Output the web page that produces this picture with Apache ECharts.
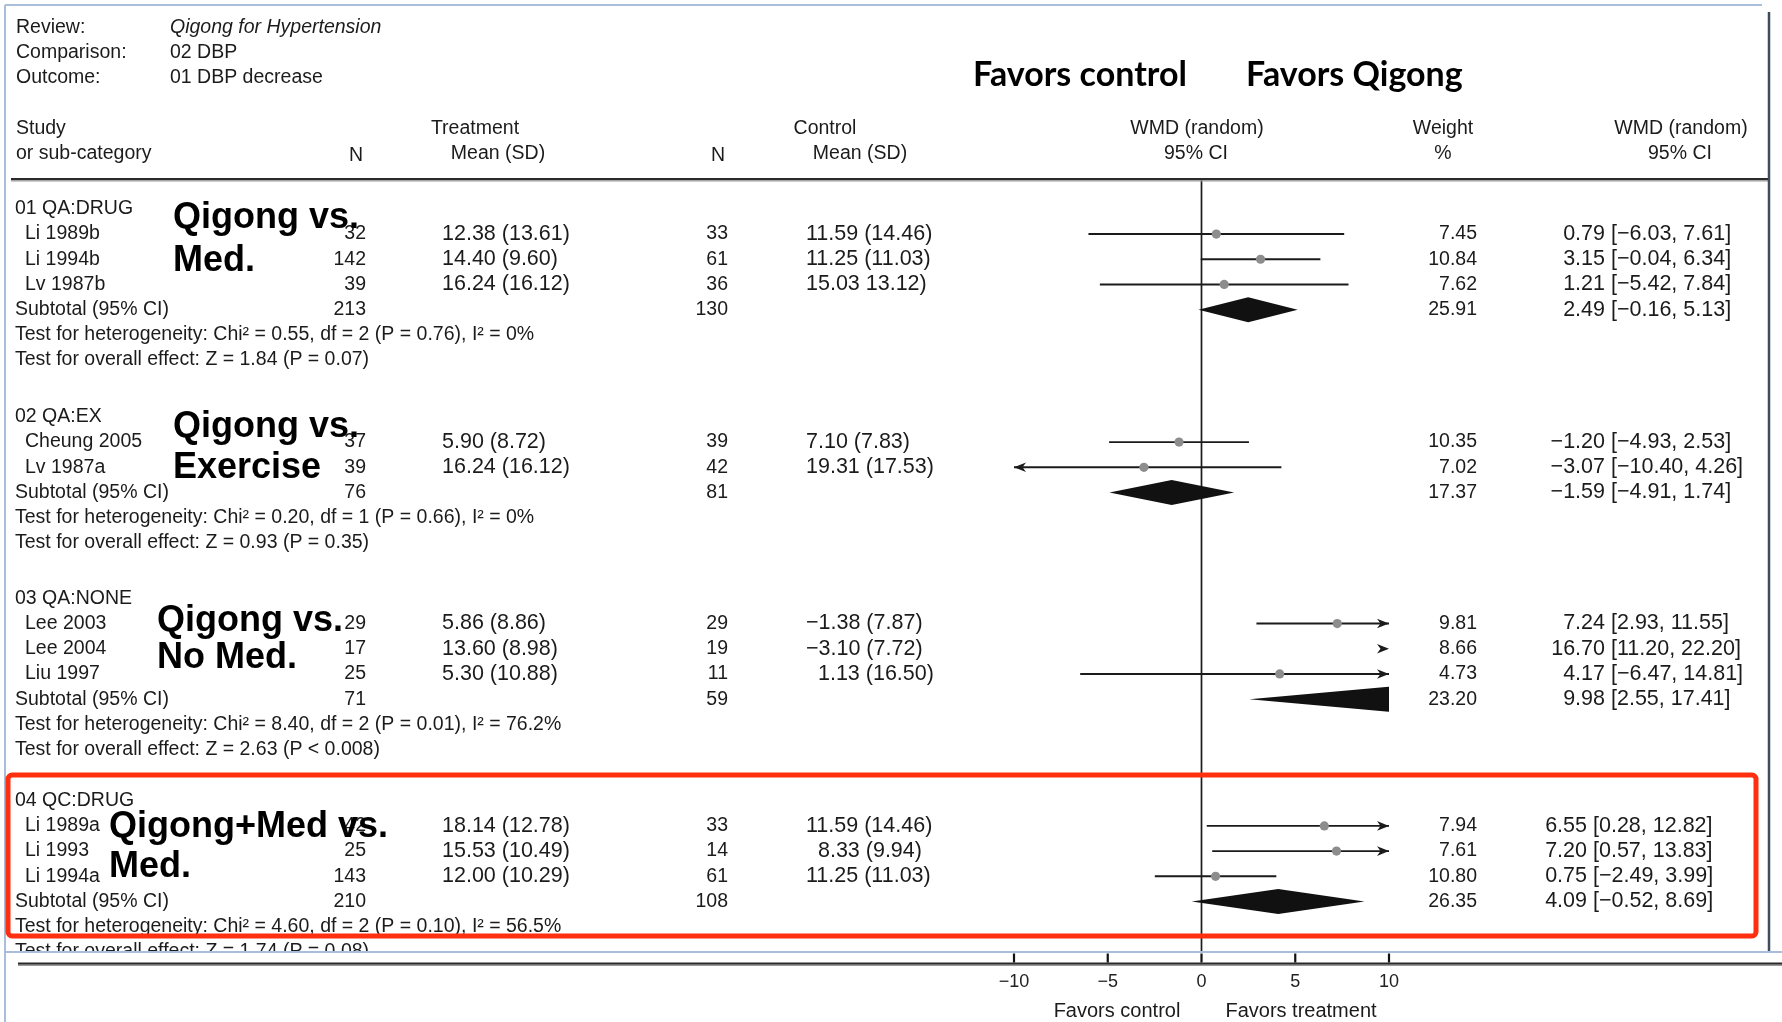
<!DOCTYPE html>
<html>
<head>
<meta charset="utf-8">
<script src="https://cdn.jsdelivr.net/npm/echarts@6/dist/echarts.min.js"></script>
<style>
  html, body { margin: 0; padding: 0; background: #ffffff; }
  #chart { width: 1782px; height: 1022px; }
</style>
</head>
<body>
<div id="chart"></div>
<script>
// ---- Review meta ----
const reviewTitle = 'Qigong for Hypertension';
const comparisonName = '02 DBP';
const outcomeName = '01 DBP decrease';

// ---- Sub-categories ----
const groupCodes = ['01 QA:DRUG', '02 QA:EX', '03 QA:NONE', '04 QC:DRUG'];
const groupNotes = [
  ['Qigong vs.', 'Med.'],
  ['Qigong vs.', 'Exercise'],
  ['Qigong vs.', 'No Med.'],
  ['Qigong+Med vs.', 'Med.']
];

// ---- Studies ----
const studyNames = ['Li 1989b', 'Li 1994b', 'Lv 1987b', 'Cheung 2005', 'Lv 1987a',
  'Lee 2003', 'Lee 2004', 'Liu 1997', 'Li 1989a', 'Li 1993', 'Li 1994a'];
const studyGroup = [0, 0, 0, 1, 1, 2, 2, 2, 3, 3, 3];
const treatN = [32, 142, 39, 37, 39, 29, 17, 25, 42, 25, 143];
const treatMeanSD = ['12.38 (13.61)', '14.40 (9.60)', '16.24 (16.12)', '5.90 (8.72)', '16.24 (16.12)',
  '5.86 (8.86)', '13.60 (8.98)', '5.30 (10.88)', '18.14 (12.78)', '15.53 (10.49)', '12.00 (10.29)'];
const ctrlN = [33, 61, 36, 39, 42, 29, 19, 11, 33, 14, 61];
const ctrlMeanSD = ['11.59 (14.46)', '11.25 (11.03)', '15.03 13.12)', '7.10 (7.83)', '19.31 (17.53)',
  '\u22121.38 (7.87)', '\u22123.10 (7.72)', '\u20071.13 (16.50)', '11.59 (14.46)', '\u20078.33 (9.94)', '11.25 (11.03)'];
const studyWeight = [7.45, 10.84, 7.62, 10.35, 7.02, 9.81, 8.66, 4.73, 7.94, 7.61, 10.80];
const studyWmd = [0.79, 3.15, 1.21, -1.20, -3.07, 7.24, 16.70, 4.17, 6.55, 7.20, 0.75];
const studyLow = [-6.03, -0.04, -5.42, -4.93, -10.40, 2.93, 11.20, -6.47, 0.28, 0.57, -2.49];
const studyHigh = [7.61, 6.34, 7.84, 2.53, 4.26, 11.55, 22.20, 14.81, 12.82, 13.83, 3.99];

// ---- Subtotals ----
const subTreatN = [213, 76, 71, 210];
const subCtrlN = [130, 81, 59, 108];
const subWeight = [25.91, 17.37, 23.20, 26.35];
const subWmd = [2.49, -1.59, 9.98, 4.09];
const subLow = [-0.16, -4.91, 2.55, -0.52];
const subHigh = [5.13, 1.74, 17.41, 8.69];
const hetTests = [
  'Chi\u00B2 = 0.55, df = 2 (P = 0.76), I\u00B2 = 0%',
  'Chi\u00B2 = 0.20, df = 1 (P = 0.66), I\u00B2 = 0%',
  'Chi\u00B2 = 8.40, df = 2 (P = 0.01), I\u00B2 = 76.2%',
  'Chi\u00B2 = 4.60, df = 2 (P = 0.10), I\u00B2 = 56.5%'
];
const overallTests = ['Z = 1.84 (P = 0.07)', 'Z = 0.93 (P = 0.35)', 'Z = 2.63 (P < 0.008)', 'Z = 1.74 (P = 0.08)'];

// ---- Axis ----
const xTicks = [-10, -5, 0, 5, 10];

// ---- Layout ----
const ROW = 25.2;                 // px per table row
const GRID_TOP = 178, GRID_BOTTOM_Y = 964;
const Y_MAX = (GRID_BOTTOM_Y - GRID_TOP) / ROW;
const GROUP_START = [1.225, 9.48, 16.68, 24.71];
const HEAD_GAP = 1.0;
const COL = { group: 15, study: 25, tN: 366, tMean: 442, cN: 728, cMean: 806, weight: 1477, ciEst: 1605 };
const CI_SHIFT = [0, 0, 0, -18];
const NOTE_X = [173, 173, 157, 109];
const NOTE_Y = [[218, 261], [427, 468], [621, 658], [827, 867]];

const FAM = '"Liberation Sans", Arial, Helvetica, sans-serif';
const FONT = '19.5px ' + FAM;
const NUMFONT = '21.5px ' + FAM;
const INK = '#1b1b1b';

const fmt = v => (v < 0 ? '\u2212' : '') + Math.abs(v).toFixed(2);

// rows of each sub-category
function groupRows(g) {
  const ids = studyNames.map((_, i) => i).filter(i => studyGroup[i] === g);
  const s = GROUP_START[g];
  return {
    header: s,
    studies: ids.map((id, k) => ({ id, row: s + HEAD_GAP + k })),
    sub: s + HEAD_GAP + ids.length,
    het: s + HEAD_GAP + ids.length + 1,
    overall: s + HEAD_GAP + ids.length + 2
  };
}

// table texts tied to row positions
const cells = [];
const ciData = [];
const subData = [];
groupCodes.forEach((code, g) => {
  const r = groupRows(g);
  const ciX = COL.ciEst + CI_SHIFT[g];
  cells.push({ row: r.header, x: COL.group, text: code, align: 'left', font: FONT });
  r.studies.forEach(({ id, row }) => {
    cells.push({ row, x: COL.study, text: studyNames[id], align: 'left', font: FONT });
    cells.push({ row, x: COL.tN, text: String(treatN[id]), align: 'right', font: FONT });
    cells.push({ row, x: COL.tMean, text: treatMeanSD[id], align: 'left', font: NUMFONT });
    cells.push({ row, x: COL.cN, text: String(ctrlN[id]), align: 'right', font: FONT });
    cells.push({ row, x: COL.cMean, text: ctrlMeanSD[id], align: 'left', font: NUMFONT });
    cells.push({ row, x: COL.weight, text: studyWeight[id].toFixed(2), align: 'right', font: FONT });
    cells.push({ row, x: ciX, text: fmt(studyWmd[id]), align: 'right', font: NUMFONT });
    cells.push({ row, x: ciX, text: ' [' + fmt(studyLow[id]) + ', ' + fmt(studyHigh[id]) + ']', align: 'left', font: NUMFONT });
    ciData.push([studyWmd[id], studyLow[id], studyHigh[id], row]);
  });
  cells.push({ row: r.sub, x: COL.group, text: 'Subtotal (95% CI)', align: 'left', font: FONT });
  cells.push({ row: r.sub, x: COL.tN, text: String(subTreatN[g]), align: 'right', font: FONT });
  cells.push({ row: r.sub, x: COL.cN, text: String(subCtrlN[g]), align: 'right', font: FONT });
  cells.push({ row: r.sub, x: COL.weight, text: subWeight[g].toFixed(2), align: 'right', font: FONT });
  cells.push({ row: r.sub, x: ciX, text: fmt(subWmd[g]), align: 'right', font: NUMFONT });
  cells.push({ row: r.sub, x: ciX, text: ' [' + fmt(subLow[g]) + ', ' + fmt(subHigh[g]) + ']', align: 'left', font: NUMFONT });
  cells.push({ row: r.het, x: COL.group, text: 'Test for heterogeneity: ' + hetTests[g], align: 'left', font: FONT });
  cells.push({ row: r.overall, x: COL.group, text: 'Test for overall effect: ' + overallTests[g], align: 'left', font: FONT });
  subData.push([subWmd[g], subLow[g], subHigh[g], r.sub]);
});

// clip a polygon to the vertical band [L, R]
function clipX(points, L, R) {
  const clipEdge = (pts, inside, cross) => {
    const out = [];
    for (let i = 0; i < pts.length; i++) {
      const a = pts[i], b = pts[(i + 1) % pts.length];
      const ia = inside(a), ib = inside(b);
      if (ia) out.push(a);
      if (ia !== ib) out.push(cross(a, b));
    }
    return out;
  };
  const at = (a, b, x) => [x, a[1] + (b[1] - a[1]) * (x - a[0]) / (b[0] - a[0])];
  let p = clipEdge(points, q => q[0] >= L, (a, b) => at(a, b, L));
  p = clipEdge(p, q => q[0] <= R, (a, b) => at(a, b, R));
  return p;
}

function arrowHead(xTip, y, dir) {
  return {
    type: 'polygon',
    shape: { points: [[xTip, y], [xTip - dir * 12, y - 4.8], [xTip - dir * 8.5, y], [xTip - dir * 12, y + 4.8]] },
    style: { fill: INK }
  };
}

const chart = echarts.init(document.getElementById('chart'), null, { renderer: 'canvas' });

const option = {
  backgroundColor: '#ffffff',
  animation: false,
  grid: { left: 1014, right: 1782 - 1389, top: GRID_TOP, bottom: 1022 - GRID_BOTTOM_Y, containLabel: false },
  xAxis: {
    type: 'value',
    position: 'bottom',
    min: xTicks[0],
    max: xTicks[xTicks.length - 1],
    interval: xTicks[1] - xTicks[0],
    z: 10,
    axisLine: { show: false, onZero: false },
    axisTick: { show: false },
    axisLabel: {
      margin: 9, fontSize: 18, color: '#222', fontFamily: FAM,
      formatter: v => (v < 0 ? '\u2212' + Math.abs(v) : String(v))
    },
    splitLine: { show: false }
  },
  yAxis: { type: 'value', inverse: true, min: 0, max: Y_MAX, show: false },
  series: [
    {
      // line of no effect
      type: 'custom', name: 'zero', silent: true, z: 2,
      data: [[0, 0]],
      renderItem: (params, api) => {
        const cs = params.coordSys;
        const x = api.coord([api.value(0), 0])[0];
        return { type: 'line', shape: { x1: x, y1: cs.y, x2: x, y2: cs.y + cs.height - 12 },
          style: { stroke: INK, lineWidth: 1.7 } };
      }
    },
    {
      // study confidence intervals
      type: 'custom', name: 'studies', silent: true, z: 3,
      data: ciData,
      encode: { x: [0, 1, 2], y: 3 },
      renderItem: (params, api) => {
        const est = api.value(0), lo = api.value(1), hi = api.value(2), row = api.value(3);
        const cs = params.coordSys, L = cs.x, R = cs.x + cs.width;
        const y = api.coord([0, row])[1];
        const px = v => api.coord([v, row])[0];
        const clamp = v => Math.max(L, Math.min(R, v));
        const xl = clamp(px(lo)), xr = clamp(px(hi));
        const children = [];
        if (xr - xl > 0.5) children.push({ type: 'line', shape: { x1: xl, y1: y, x2: xr, y2: y }, style: { stroke: INK, lineWidth: 1.9 } });
        if (px(hi) > R) children.push(arrowHead(R, y, 1));
        if (px(lo) < L) children.push(arrowHead(L, y, -1));
        const xe = px(est);
        if (xe >= L && xe <= R) children.push({ type: 'circle', shape: { cx: xe, cy: y, r: 4.6 }, style: { fill: '#8d8d8d' } });
        return { type: 'group', children };
      }
    },
    {
      // pooled estimates per sub-category
      type: 'custom', name: 'subtotals', silent: true, z: 3,
      data: subData,
      encode: { x: [0, 1, 2], y: 3 },
      renderItem: (params, api) => {
        const est = api.value(0), lo = api.value(1), hi = api.value(2), row = api.value(3);
        const cs = params.coordSys;
        const y = api.coord([0, row])[1];
        const px = v => api.coord([v, row])[0];
        const h = 12.5;
        const pts = clipX([[px(lo), y], [px(est), y - h], [px(hi), y], [px(est), y + h]], cs.x, cs.x + cs.width);
        return { type: 'polygon', shape: { points: pts }, style: { fill: '#111111' } };
      }
    },
    {
      // table text
      type: 'custom', name: 'table', silent: true, z: 2,
      data: cells.map((c, i) => [0, c.row, i]),
      encode: { x: 0, y: 1 },
      renderItem: (params, api) => {
        const c = cells[api.value(2)];
        const y = api.coord([0, api.value(1)])[1];
        return { type: 'text', style: { x: c.x, y, text: c.text, font: c.font, fill: INK,
          textAlign: c.align, textVerticalAlign: 'middle' } };
      }
    }
  ],
  graphic: { elements: [] }
};

const G = option.graphic.elements;
const txt = (x, y, text, opts = {}) => G.push({
  type: 'text', z: opts.z || 5, silent: true,
  style: { x, y, text, font: opts.font || FONT, fill: opts.fill || INK,
    textAlign: opts.align || 'left', textVerticalAlign: 'middle' }
});

// review block
txt(16, 27.5, 'Review:');
txt(170, 27.5, reviewTitle, { font: 'italic 19.5px ' + FAM });
txt(16, 53, 'Comparison:');
txt(170, 53, comparisonName);
txt(16, 78, 'Outcome:');
txt(170, 78, outcomeName);

// column headers
txt(16, 129, 'Study');
txt(16, 154, 'or sub-category');
txt(356, 156, 'N', { align: 'center' });
txt(475, 129, 'Treatment', { align: 'center' });
txt(498, 154, 'Mean (SD)', { align: 'center' });
txt(718, 156, 'N', { align: 'center' });
txt(825, 129, 'Control', { align: 'center' });
txt(860, 154, 'Mean (SD)', { align: 'center' });
txt(1197, 129, 'WMD (random)', { align: 'center' });
txt(1196, 154, '95% CI', { align: 'center' });
txt(1443, 129, 'Weight', { align: 'center' });
txt(1443, 154, '%', { align: 'center' });
txt(1681, 129, 'WMD (random)', { align: 'center' });
txt(1680, 154, '95% CI', { align: 'center' });

// direction captions
const BIG = 'bold 34px Lato, "Open Sans", sans-serif';
txt(973, 75, 'Favors control', { font: BIG, fill: '#000' });
txt(1246, 75, 'Favors Qigong', { font: BIG, fill: '#000' });
txt(1117, 1011, 'Favors control', { align: 'center', font: '20px ' + FAM, z: 12 });
txt(1301, 1011, 'Favors treatment', { align: 'center', font: '20px ' + FAM, z: 12 });

// sub-category notes
groupNotes.forEach((lines, g) => {
  lines.forEach((t, k) => txt(NOTE_X[g], NOTE_Y[g][k], t, { font: 'bold 36px ' + FAM, fill: '#000', z: 6 }));
});

// rules and frame
const rect = (x, y, w, h, fill, z) => G.push({ type: 'rect', z, silent: true, shape: { x, y, width: w, height: h }, style: { fill } });
const line = (x1, y1, x2, y2, stroke, lw, z) => G.push({ type: 'line', z, silent: true, shape: { x1, y1, x2, y2 }, style: { stroke, lineWidth: lw } });

rect(7, 953, 900, 69, '#ffffff', 8);             // lower panel, left of the axis
rect(11, 178, 1757, 2.2, '#2a2a2a', 9);           // header rule
rect(11, 180.2, 1757, 1.2, '#9a9a9a', 9);
rect(18, 962.5, 1764, 2.2, '#2a2a2a', 9);         // axis rule
rect(18, 964.7, 1764, 1.2, '#9a9a9a', 9);
line(5, 5, 1762, 5, '#a9bedb', 2, 9);             // frame
line(5, 5, 5, 1022, '#a9bedb', 2, 9);
line(5, 952, 1782, 952, '#a9bedb', 2, 9);
line(1769, 12, 1769, 951, '#3e4c5e', 2.5, 9);
G.push({ type: 'rect', z: 20, silent: true, shape: { x: 8, y: 775, width: 1748, height: 161, r: 4 },
  style: { fill: 'none', stroke: '#ff2f0f', lineWidth: 5 } });

chart.setOption(option);

// tick marks above the axis rule, placed through the x scale
const tickMarks = xTicks.map(v => {
  const x = chart.convertToPixel({ xAxisIndex: 0 }, v);
  return { type: 'line', z: 15, silent: true, shape: { x1: x, y1: 962.5, x2: x, y2: 953.5 },
    style: { stroke: '#111111', lineWidth: 2.2 } };
});
chart.setOption({ graphic: { elements: G.concat(tickMarks) } }, { replaceMerge: ['graphic'] });
</script>
</body>
</html>
